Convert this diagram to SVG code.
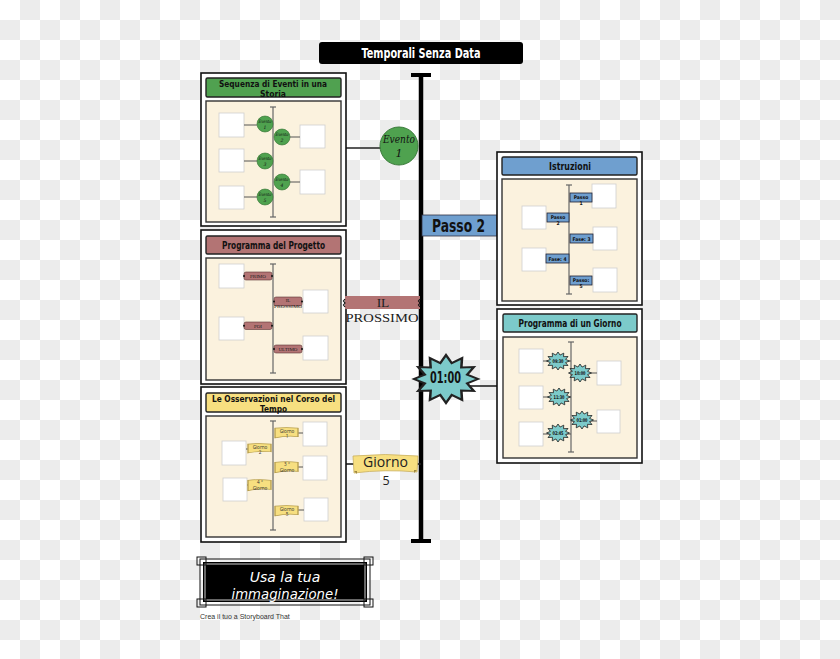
<svg xmlns="http://www.w3.org/2000/svg" xmlns:xlink="http://www.w3.org/1999/xlink" width="840" height="659" viewBox="0 0 840 659">
<defs>
<pattern id="checker" x="0" y="0" width="40" height="40" patternUnits="userSpaceOnUse">
<rect width="40" height="40" fill="#ffffff"/>
<rect x="20" y="0" width="20" height="20" fill="#ececec"/>
<rect x="0" y="20" width="20" height="20" fill="#ececec"/>
</pattern>
<polygon id="star" points="10,0 6.6,1.8 8.7,5 4.8,4.8 5,8.7 1.8,6.6 0,10 -1.8,6.6 -5,8.7 -4.8,4.8 -8.7,5 -6.6,1.8 -10,0 -6.6,-1.8 -8.7,-5 -4.8,-4.8 -5,-8.7 -1.8,-6.6 0,-10 1.8,-6.6 5,-8.7 4.8,-4.8 8.7,-5 6.6,-1.8"/>
<path id="ribbon" d="M0,1 Q5,0 10,1 L10,8 Q5,7 0,9 Z"/>
<style>
.outer{fill:#ffffff;stroke:#111;stroke-width:1.6}
.hdr{stroke:#222;stroke-width:1.4}
.cream{fill:#fbf2de;stroke:#333;stroke-width:1.4}
.sq{fill:#ffffff;stroke:#cfcfcf;stroke-width:0.8}
.vl{stroke:#666;stroke-width:1.2;fill:none}
.cl{stroke:#555;stroke-width:1;fill:none}
.ht{font-family:"DejaVu Sans Condensed","DejaVu Sans",sans-serif;font-weight:bold;font-size:10.5px;fill:#111;text-anchor:middle}
.ht2{font-family:"DejaVu Sans Condensed","DejaVu Sans",sans-serif;font-weight:bold;font-size:8.8px;fill:#111;text-anchor:middle}
.tiny{font-family:"DejaVu Sans Condensed","DejaVu Sans",sans-serif;font-weight:bold;font-size:5px;fill:#111;text-anchor:middle}
.tserif{font-family:"Liberation Serif","DejaVu Serif",serif;font-size:5px;fill:#222;text-anchor:middle}
.tsans{font-family:"Open Sans","DejaVu Sans",sans-serif;font-size:4.6px;fill:#333;text-anchor:middle}
.ev{font-family:"DejaVu Serif","Liberation Serif",serif;font-style:italic;fill:#111;text-anchor:middle}
.gc{fill:#4fa24f;stroke:#2f6f2f;stroke-width:0.6}
.blue{fill:#6f9fcf;stroke:#223;stroke-width:0.8}
.red{fill:#b37474;stroke:#5a3434;stroke-width:0.6}
.yel{fill:#f7df80;stroke:#b8a050;stroke-width:0.6}
.teal{fill:#7ccaca;stroke:#222;stroke-width:0.8;vector-effect:non-scaling-stroke}
.dot{fill:#111}
</style>
</defs>
<rect x="0" y="0" width="840" height="659" fill="url(#checker)"/>

<g id="title">
<rect x="319" y="42" width="204" height="22" rx="3" fill="#000"/>
<text x="421" y="58" font-family="DejaVu Sans Condensed,DejaVu Sans,sans-serif" font-weight="bold" font-size="14" fill="#fff" text-anchor="middle" textLength="119" lengthAdjust="spacingAndGlyphs">Temporali Senza Data</text>
</g>

<g id="timeline">
<line x1="421" y1="75" x2="421" y2="541" stroke="#000" stroke-width="4.5"/>
<line x1="411" y1="75" x2="431" y2="75" stroke="#000" stroke-width="4"/>
<line x1="411" y1="541" x2="431" y2="541" stroke="#000" stroke-width="4"/>
</g>

<g id="connectors">
<line x1="346" y1="148" x2="381" y2="148" stroke="#222" stroke-width="1.6"/>
<line x1="470" y1="386" x2="497" y2="386" stroke="#222" stroke-width="1.6"/>
<line x1="346" y1="464" x2="354" y2="464" stroke="#222" stroke-width="1.6"/>
<line x1="417" y1="464" x2="421" y2="464" stroke="#222" stroke-width="1.6"/>
</g>

<!-- Panel 1 -->
<g id="panel-sequenza">
<rect class="outer" x="201" y="73" width="145" height="153"/>
<rect class="hdr" x="206" y="78" width="135" height="19" rx="1.5" fill="#50a150"/>
<text class="ht2" x="273" y="86.5" textLength="108" lengthAdjust="spacingAndGlyphs">Sequenza di Eventi in una</text>
<text class="ht2" x="273" y="96.8" textLength="26" lengthAdjust="spacingAndGlyphs">Storia</text>
<rect class="cream" x="206" y="101" width="135" height="121"/>
<line class="vl" x1="273" y1="107" x2="273" y2="217"/>
<line class="vl" x1="270" y1="107" x2="276" y2="107"/>
<line class="vl" x1="270" y1="217" x2="276" y2="217"/>
<rect class="sq" x="219" y="113" width="25" height="24"/>
<rect class="sq" x="219" y="149" width="25" height="23"/>
<rect class="sq" x="219" y="186" width="25" height="23"/>
<rect class="sq" x="300" y="125" width="25" height="23"/>
<rect class="sq" x="300" y="170" width="25" height="24"/>
<line class="cl" x1="244" y1="125" x2="257" y2="125"/>
<line class="cl" x1="290" y1="137" x2="300" y2="137"/>
<line class="cl" x1="244" y1="161" x2="257" y2="161"/>
<line class="cl" x1="290" y1="182" x2="300" y2="182"/>
<line class="cl" x1="244" y1="197" x2="257" y2="197"/>
<circle class="gc" cx="265" cy="124" r="8"/>
<circle class="gc" cx="282" cy="137" r="8"/>
<circle class="gc" cx="265" cy="161" r="8"/>
<circle class="gc" cx="282" cy="182" r="8"/>
<circle class="gc" cx="265" cy="197" r="8"/>
<text class="ev" font-size="4.6" x="265" y="123" textLength="13" lengthAdjust="spacingAndGlyphs">Evento</text><text class="ev" font-size="4.6" x="265" y="129">1</text>
<text class="ev" font-size="4.6" x="282" y="136" textLength="13" lengthAdjust="spacingAndGlyphs">Evento</text><text class="ev" font-size="4.6" x="282" y="142">2</text>
<text class="ev" font-size="4.6" x="265" y="160" textLength="13" lengthAdjust="spacingAndGlyphs">Evento</text><text class="ev" font-size="4.6" x="265" y="166">3</text>
<text class="ev" font-size="4.6" x="282" y="181" textLength="13" lengthAdjust="spacingAndGlyphs">Evento</text><text class="ev" font-size="4.6" x="282" y="187">4</text>
<text class="ev" font-size="4.6" x="265" y="196" textLength="13" lengthAdjust="spacingAndGlyphs">Evento</text><text class="ev" font-size="4.6" x="265" y="202">5</text>
</g>

<g id="evento1">
<circle cx="399" cy="146" r="19" fill="#4fa24f" stroke="#3a7a3a" stroke-width="1"/>
<text class="ev" font-size="11" x="399" y="143" textLength="32" lengthAdjust="spacingAndGlyphs">Evento</text>
<text class="ev" font-size="11" x="399" y="157">1</text>
</g>

<!-- Panel 2 -->
<g id="panel-progetto">
<rect class="outer" x="201" y="230" width="145" height="154"/>
<rect class="hdr" x="206" y="236" width="135" height="18" rx="1.5" fill="#b37474"/>
<text class="ht" x="273.5" y="248.5" textLength="103" lengthAdjust="spacingAndGlyphs">Programma del Progetto</text>
<rect class="cream" x="206" y="258" width="135" height="122"/>
<line class="vl" x1="273" y1="264" x2="273" y2="373"/>
<line class="vl" x1="270" y1="264" x2="276" y2="264"/>
<line class="vl" x1="270" y1="373" x2="276" y2="373"/>
<rect class="sq" x="219" y="264" width="25" height="24"/>
<rect class="sq" x="303" y="290" width="25" height="23"/>
<rect class="sq" x="219" y="317" width="25" height="23"/>
<rect class="sq" x="303" y="336" width="25" height="24"/>
<rect class="red" x="244" y="272" width="28" height="8" rx="2"/>
<rect class="red" x="274" y="297" width="28" height="9" rx="2"/>
<rect class="red" x="244" y="322" width="28" height="7.5" rx="2"/>
<rect class="red" x="274" y="345" width="28" height="8" rx="2"/>
<circle class="dot" cx="244" cy="276" r="1"/><circle class="dot" cx="272" cy="276" r="1"/>
<circle class="dot" cx="274" cy="301.5" r="1"/><circle class="dot" cx="302" cy="301.5" r="1"/>
<circle class="dot" cx="244" cy="325.7" r="1"/><circle class="dot" cx="272" cy="325.7" r="1"/>
<circle class="dot" cx="274" cy="349" r="1"/><circle class="dot" cx="302" cy="349" r="1"/>
<text class="tserif" x="258" y="278">PRIMO</text>
<text class="tserif" x="288" y="301.5">IL</text>
<text class="tserif" x="288" y="307.5" textLength="28" lengthAdjust="spacingAndGlyphs">PROSSIMO</text>
<text class="tserif" x="258" y="327.5">POI</text>
<text class="tserif" x="288" y="351">ULTIMO</text>
</g>

<g id="il-prossimo">
<rect x="345" y="296" width="75" height="13" fill="#b37474"/>
<path d="M345,299 l-1.5,2 l1.5,2 l-1.5,2 l1.5,2" fill="none" stroke="#111" stroke-width="1.2"/>
<path d="M420,299 l-1.5,2 l1.5,2 l-1.5,2 l1.5,2" fill="none" stroke="#111" stroke-width="1.2"/>
<text x="383" y="307" font-family="Liberation Serif,DejaVu Serif,serif" font-size="13.5" fill="#222" text-anchor="middle">IL</text>
<text x="382" y="322" font-family="Liberation Serif,DejaVu Serif,serif" font-size="13.5" fill="#222" text-anchor="middle" textLength="73" lengthAdjust="spacingAndGlyphs">PROSSIMO</text>
</g>

<!-- Panel 3 -->
<g id="panel-osservazioni">
<rect class="outer" x="201" y="387" width="145" height="155"/>
<rect class="hdr" x="206" y="393" width="135" height="19" rx="1.5" fill="#f7df80"/>
<text class="ht2" x="273.5" y="401.5" textLength="123" lengthAdjust="spacingAndGlyphs">Le Osservazioni nel Corso del</text>
<text class="ht2" x="273.5" y="411.8" textLength="27" lengthAdjust="spacingAndGlyphs">Tempo</text>
<rect class="cream" x="206" y="416" width="135" height="121"/>
<line class="vl" x1="273" y1="421" x2="273" y2="530"/>
<line class="vl" x1="270" y1="421" x2="276" y2="421"/>
<line class="vl" x1="270" y1="530" x2="276" y2="530"/>
<rect class="sq" x="303" y="422" width="24" height="24"/>
<rect class="sq" x="222" y="441" width="24" height="24"/>
<rect class="sq" x="303" y="456" width="24" height="24"/>
<rect class="sq" x="223" y="478" width="24" height="23"/>
<rect class="sq" x="304" y="498" width="24" height="23"/>
<line class="cl" x1="298" y1="433" x2="303" y2="433"/>
<line class="cl" x1="246" y1="449" x2="248" y2="449"/>
<line class="cl" x1="298" y1="467" x2="303" y2="467"/>
<line class="cl" x1="247" y1="485" x2="248" y2="485"/>
<line class="cl" x1="298" y1="510" x2="304" y2="510"/>
<use href="#ribbon" xlink:href="#ribbon" class="yel" transform="translate(275,427) scale(2.3,1.2)"/>
<use href="#ribbon" xlink:href="#ribbon" class="yel" transform="translate(248,443) scale(2.3,1.1)"/>
<use href="#ribbon" xlink:href="#ribbon" class="yel" transform="translate(275,461) scale(2.3,1.3)"/>
<use href="#ribbon" xlink:href="#ribbon" class="yel" transform="translate(248,479) scale(2.3,1.3)"/>
<use href="#ribbon" xlink:href="#ribbon" class="yel" transform="translate(275,505) scale(2.3,1.2)"/>
<text class="tsans" x="287" y="432.5">Giorno</text><text class="tsans" x="287" y="438">1</text>
<text class="tsans" x="260" y="448.5">Giorno</text><text class="tsans" x="260" y="454">2</text>
<text class="tsans" x="287" y="466">3 °</text><text class="tsans" x="287" y="471.5">Giorno</text>
<text class="tsans" x="260" y="484">4 °</text><text class="tsans" x="260" y="489.5">Giorno</text>
<text class="tsans" x="287" y="510.5">Giorno</text><text class="tsans" x="287" y="516">5</text>
</g>

<g id="giorno5">
<path d="M353,456 Q385,453 418,456 L417,472 Q385,469 354,473 Z" fill="#f7df80" stroke="#c9b060" stroke-width="0.8"/>
<path d="M354,471 l3,3 l0,-3 Z" fill="#a08a40"/>
<path d="M417,470 l-3,3 l0,-3 Z" fill="#a08a40"/>
<text x="385.5" y="466.5" font-family="Open Sans,DejaVu Sans,sans-serif" font-size="14.5" fill="#222" text-anchor="middle" textLength="45" lengthAdjust="spacingAndGlyphs">Giorno</text>
<text x="386" y="485" font-family="Open Sans,DejaVu Sans,sans-serif" font-size="12.5" fill="#222" text-anchor="middle">5</text>
</g>

<!-- Passo 2 label -->
<g id="passo2">
<rect x="422" y="215" width="75" height="21" fill="#6f9fcf" stroke="#334" stroke-width="0.8"/>
<text x="458.5" y="231.5" font-family="DejaVu Sans Condensed,DejaVu Sans,sans-serif" font-weight="bold" font-size="17" fill="#111" text-anchor="middle" textLength="53" lengthAdjust="spacingAndGlyphs">Passo 2</text>
</g>

<!-- Panel Istruzioni -->
<g id="panel-istruzioni">
<rect class="outer" x="497" y="152" width="145" height="153"/>
<rect class="hdr" x="502" y="157" width="135" height="18" rx="1.5" fill="#6f9fcf"/>
<text class="ht" x="570" y="169.5" textLength="42" lengthAdjust="spacingAndGlyphs">Istruzioni</text>
<rect class="cream" x="502" y="179" width="135" height="122"/>
<line class="vl" x1="569" y1="185" x2="569" y2="294"/>
<line class="vl" x1="566" y1="185" x2="572" y2="185"/>
<line class="vl" x1="566" y1="294" x2="572" y2="294"/>
<rect class="sq" x="592" y="184" width="24" height="24"/>
<rect class="sq" x="522" y="206" width="24" height="23"/>
<rect class="sq" x="593" y="227" width="24" height="23"/>
<rect class="sq" x="522" y="248" width="24" height="23"/>
<rect class="sq" x="593" y="268" width="24" height="24"/>
<rect class="blue" x="570" y="193" width="22" height="9"/>
<rect class="blue" x="547" y="213" width="22" height="9"/>
<rect class="blue" x="570" y="234" width="23" height="9"/>
<rect class="blue" x="546" y="254" width="23" height="9"/>
<rect class="blue" x="570" y="276" width="22" height="9"/>
<text class="tiny" x="581" y="199">Passo</text><text class="tiny" x="581" y="205">1</text>
<text class="tiny" x="558" y="219">Passo</text><text class="tiny" x="558" y="225">2</text>
<text class="tiny" x="581.5" y="240.5">Fase: 3</text>
<text class="tiny" x="557.5" y="260.5">Fase: 4</text>
<text class="tiny" x="581" y="282">Passo:</text><text class="tiny" x="581" y="288">5</text>
</g>

<!-- 01:00 star -->
<g id="star-0100">
<use href="#star" xlink:href="#star" class="teal" transform="translate(446,379) scale(3.2,2.4)"/>
<text x="445.5" y="383" font-family="DejaVu Sans Condensed,DejaVu Sans,sans-serif" font-weight="bold" font-size="15" fill="#111" text-anchor="middle" textLength="31" lengthAdjust="spacingAndGlyphs">01:00</text>
</g>

<!-- Panel Programma di un Giorno -->
<g id="panel-giorno">
<rect class="outer" x="497" y="309" width="145" height="154"/>
<rect class="hdr" x="503" y="314" width="134" height="18" rx="1.5" fill="#7ccaca"/>
<text class="ht" x="570" y="326.5" textLength="103" lengthAdjust="spacingAndGlyphs">Programma di un Giorno</text>
<rect class="cream" x="503" y="337" width="134" height="121"/>
<line class="vl" x1="571" y1="342" x2="571" y2="452"/>
<line class="vl" x1="568" y1="342" x2="574" y2="342"/>
<line class="vl" x1="568" y1="452" x2="574" y2="452"/>
<rect class="sq" x="519" y="349" width="24" height="24"/>
<rect class="sq" x="597" y="361" width="24" height="24"/>
<rect class="sq" x="519" y="386" width="24" height="23"/>
<rect class="sq" x="597" y="410" width="23" height="23"/>
<rect class="sq" x="519" y="422" width="24" height="24"/>
<line class="cl" x1="543" y1="361" x2="571" y2="361"/>
<line class="cl" x1="571" y1="373" x2="597" y2="373"/>
<line class="cl" x1="543" y1="397" x2="571" y2="397"/>
<line class="cl" x1="571" y1="421" x2="597" y2="421"/>
<line class="cl" x1="543" y1="434" x2="571" y2="434"/>
<use href="#star" xlink:href="#star" class="teal" transform="translate(558,361) scale(1.15,0.9)"/>
<use href="#star" xlink:href="#star" class="teal" transform="translate(580,373) scale(1.15,0.9)"/>
<use href="#star" xlink:href="#star" class="teal" transform="translate(559,397) scale(1.15,0.9)"/>
<use href="#star" xlink:href="#star" class="teal" transform="translate(582,420) scale(1.15,0.9)"/>
<use href="#star" xlink:href="#star" class="teal" transform="translate(558,433) scale(1.15,0.9)"/>
<text class="tiny" font-size="4.8" x="558" y="363" textLength="11" lengthAdjust="spacingAndGlyphs">09:30</text>
<text class="tiny" font-size="4.8" x="580" y="375" textLength="11" lengthAdjust="spacingAndGlyphs">10:00</text>
<text class="tiny" font-size="4.8" x="559" y="399" textLength="11" lengthAdjust="spacingAndGlyphs">11:30</text>
<text class="tiny" font-size="4.8" x="582" y="422" textLength="11" lengthAdjust="spacingAndGlyphs">01:00</text>
<text class="tiny" font-size="4.8" x="558" y="435" textLength="11" lengthAdjust="spacingAndGlyphs">02:45</text>
</g>

<!-- Bottom banner -->
<g id="imagination">
<rect x="203" y="562" width="164" height="40" fill="#000"/>
<rect x="200" y="559" width="170" height="46" fill="none" stroke="#111" stroke-width="1"/>
<rect x="205" y="564" width="160" height="36" fill="none" stroke="#fff" stroke-width="0.8"/>
<rect x="197" y="557" width="9" height="8" fill="none" stroke="#111" stroke-width="1"/>
<rect x="364" y="557" width="9" height="8" fill="none" stroke="#111" stroke-width="1"/>
<rect x="197" y="599" width="9" height="8" fill="none" stroke="#111" stroke-width="1"/>
<rect x="364" y="599" width="9" height="8" fill="none" stroke="#111" stroke-width="1"/>
<text x="285" y="582" font-family="DejaVu Sans,sans-serif" font-style="italic" font-size="14" fill="#fff" text-anchor="middle">Usa la tua</text>
<text x="285" y="599" font-family="DejaVu Sans,sans-serif" font-style="italic" font-size="14" fill="#fff" text-anchor="middle" textLength="107" lengthAdjust="spacingAndGlyphs">immaginazione!</text>
</g>
<text x="200" y="619" font-family="Liberation Sans,Arial,sans-serif" font-size="7" fill="#333">Crea il tuo a Storyboard That</text>
</svg>
